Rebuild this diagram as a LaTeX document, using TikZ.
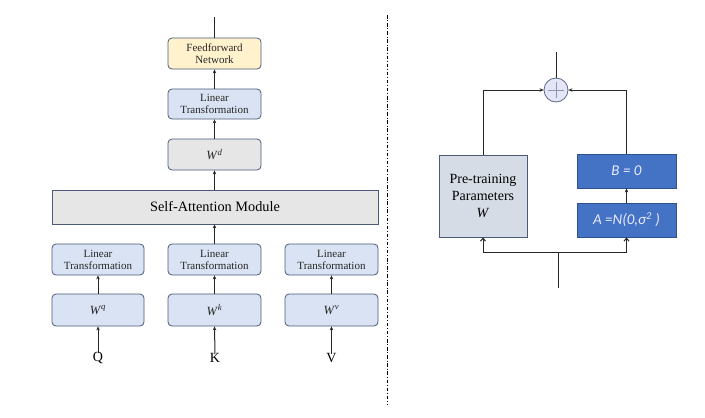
\documentclass[tikz,border=0pt]{standalone}
\usepackage{fontspec}
\setmainfont{Liberation Serif}
\newfontfamily\calib{Carlito}
\usetikzlibrary{arrows.meta}
\definecolor{lblue}{HTML}{DAE3F3}
\definecolor{bedge}{HTML}{4A5A78}
\definecolor{lyel}{HTML}{FFF2CC}
\definecolor{lgray}{HTML}{E6E6E6}
\definecolor{pgray}{HTML}{D6DCE5}
\definecolor{dblue}{HTML}{4472C4}
\definecolor{dbedge}{HTML}{2F528F}
\definecolor{circfill}{HTML}{E4E6F8}
\definecolor{circedge}{HTML}{5A6A88}
\tikzset{
  rbox/.style={draw=bedge, line width=0.8pt, rounded corners=4pt, align=center, inner sep=0pt, font=\rmfamily\fontsize{11}{12}\selectfont, text=black!85},
  lin/.style={rbox, fill=lblue},
  sbox/.style={draw=bedge, line width=0.8pt, inner sep=0pt, align=center},
  bluebox/.style={draw=dbedge, line width=0.8pt, fill=dblue, inner sep=0pt, minimum width=99pt, minimum height=34pt, text=white!92!blue, font=\calib\itshape\fontsize{15}{17}\selectfont},
  conn/.style={line width=1pt, draw=black!85},
  arr/.style={conn, -{Stealth[length=4pt,width=3.5pt]}},
  barb/.style={conn, -{Straight Barb[length=3pt,width=5pt]}},
  lbl/.style={font=\fontsize{14}{16}\selectfont, inner sep=1pt}
}
\begin{document}
\begin{tikzpicture}[x=1pt,y=-1pt]
\useasboundingbox (0,0) rectangle (705,418);
% left side
\node[rbox, fill=lyel, minimum width=93pt, minimum height=31pt] (ffn) at (214.5,53.5) {Feedforward\\Network};
\node[lin, minimum width=93pt, minimum height=30pt] (lint) at (214.5,104) {Linear\\Transformation};
\node[rbox, fill=lgray, minimum width=93pt, minimum height=31pt, font=\fontsize{12.5}{14}\selectfont] (wd) at (214.5,154.5) {\textit{W}\textsuperscript{\textit{d}}};
\node[sbox, fill=lgray, minimum width=326pt, minimum height=34pt, font=\fontsize{14.3}{16}\selectfont] (sam) at (215,207) {Self-Attention Module};
\node[lin, minimum width=92pt, minimum height=31pt] (linq) at (98,259.5) {Linear\\Transformation};
\node[lin, minimum width=93pt, minimum height=31pt] (link) at (214.5,259.5) {Linear\\Transformation};
\node[lin, minimum width=93pt, minimum height=31pt] (linv) at (331.5,259.5) {Linear\\Transformation};
\node[lin, minimum width=92pt, minimum height=32pt, font=\fontsize{12.5}{14}\selectfont] (wq) at (98,310) {\textit{W}\textsuperscript{\textit{q}}};
\node[lin, minimum width=93pt, minimum height=32pt, font=\fontsize{12.5}{14}\selectfont] (wk) at (214.5,310) {\textit{W}\textsuperscript{\textit{k}}};
\node[lin, minimum width=93pt, minimum height=32pt, font=\fontsize{12.5}{14}\selectfont] (wv) at (331.5,310) {\textit{W}\textsuperscript{\textit{v}}};
\node[lbl] (q) at (98,358) {Q};
\node[lbl] (k) at (215,358) {K};
\node[lbl] (v) at (331.5,358) {V};
\coordinate (out) at (214.5,17);
\draw[conn] (ffn.north) -- (out);
\draw[arr] (lint.north) -- (ffn.south);
\draw[arr] (wd.north) -- (lint.south);
\draw[arr] (sam.north -| wd.south) -- (wd.south);
\draw[arr] (link.north) -- (sam.south -| link.north);
\draw[arr] (wq.north) -- (linq.south);
\draw[arr] (wk.north) -- (link.south);
\draw[arr] (wv.north) -- (linv.south);
\draw[arr] ([yshift=-2pt]q.north) -- (wq.south);
\draw[arr] ([yshift=-2pt]k.north) -- (wk.south);
\draw[arr] ([yshift=-2pt]v.north) -- (wv.south);
% divider
\coordinate (d1) at (387,15);
\coordinate (d2) at (387,405);
\draw[line width=0.8pt, dash pattern=on 3.5pt off 1.8pt on 1pt off 1.8pt] (d1) -- (d2);
% right side
\node[circle, draw=circedge, fill=circfill, line width=0.8pt, minimum size=24pt, inner sep=0pt] (plus) at (556,90) {};
\draw[circedge!70, line width=0.8pt] ([xshift=-8pt]plus.center) -- ([xshift=8pt]plus.center);
\draw[circedge!70, line width=0.8pt] ([yshift=-8pt]plus.center) -- ([yshift=8pt]plus.center);
\node[sbox, draw=bedge, fill=pgray, minimum width=88pt, minimum height=82pt, font=\fontsize{14}{17}\selectfont] (pre) at (483,196) {Pre-training\\Parameters\\\textit{W}};
\node[bluebox] (B) at (626.5,171) {B = 0};
\node[bluebox] (A) at (626.5,220) {A =N(0,σ\textsuperscript{2} )};
\coordinate (top) at (556,52);
\draw[conn] (plus.north) -- (top);
\draw[arr] (pre.north) |- (plus.west);
\draw[arr] (B.north) |- (plus.east);
\draw[arr] (A.north) -- (B.south);
\coordinate (inp) at (558,288);
\coordinate (split) at (558,252);
\draw[conn] (inp) -- (split);
\draw[barb] (split) -| (pre.south);
\draw[barb] (split) -| (A.south);
\end{tikzpicture}
\end{document}
